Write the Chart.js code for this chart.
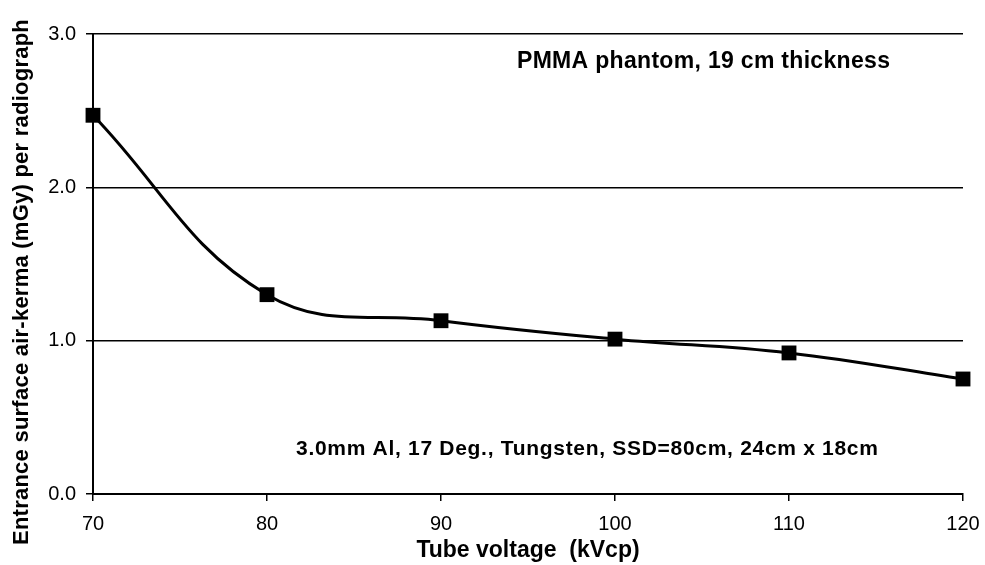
<!DOCTYPE html>
<html>
<head>
<meta charset="utf-8">
<script src="https://cdn.jsdelivr.net/npm/chart.js@4/dist/chart.umd.min.js"></script>
<style>
  html, body { margin: 0; padding: 0; background: #fff; }
  #wrap { width: 985px; height: 565px; position: relative; }
</style>
</head>
<body>
<div id="wrap"><canvas id="chart-esak"></canvas></div>
<script>
// tensão do tubo (kVcp) e kerma no ar na superfície de entrada (mGy)
const kvcp = [70, 80, 90, 100, 110, 120];
const esak = [2.47, 1.30, 1.13, 1.01, 0.92, 0.75];
const xTicks = [70, 80, 90, 100, 110, 120];
const yTicks = [0, 1, 2, 3];

const tituloX = 'Tube voltage  (kVcp)';
const tituloY = 'Entrance surface air-kerma (mGy) per radiograph';
const notaTopo = 'PMMA phantom, 19 cm thickness';
const notaBase = '3.0mm Al, 17 Deg., Tungsten, SSD=80cm, 24cm x 18cm';

const FONTE = '"Liberation Sans", Arial, sans-serif';

// escreve texto esticado até a largura pedida (o original é meio "esticado")
function textoLargura(ctx, txt, x, y, largura) {
  ctx.letterSpacing = '0px';
  const w = ctx.measureText(txt).width;
  const esp = (largura - w) / (txt.length - 1);
  ctx.letterSpacing = esp.toFixed(2) + 'px';
  ctx.fillText(txt, x, y);
  ctx.letterSpacing = '0px';
}

// notas de texto + título do eixo Y
const notasPlugin = {
  id: 'notas',
  afterDraw(chart) {
    const ctx = chart.ctx;
    ctx.save();
    ctx.fillStyle = '#000';
    ctx.textBaseline = 'middle';
    ctx.textAlign = 'left';
    ctx.font = 'bold 23px ' + FONTE;
    textoLargura(ctx, notaTopo, 517, 62, 373);
    ctx.font = 'bold 21px ' + FONTE;
    textoLargura(ctx, notaBase, 296, 449, 582);

    // título Y (girado)
    ctx.translate(22, 282);
    ctx.rotate(-Math.PI / 2);
    ctx.font = 'bold 22px ' + FONTE;
    textoLargura(ctx, tituloY, -263, 0, 526);
    ctx.restore();
  }
};

const ctx = document.getElementById('chart-esak');
new Chart(ctx, {
  type: 'line',
  data: {
    datasets: [{
      data: kvcp.map((k, i) => ({ x: k, y: esak[i] })),
      borderColor: '#000', borderWidth: 3,
      backgroundColor: '#000',
      pointStyle: 'rect', pointRadius: 10.5, pointBorderWidth: 0,
      tension: 0.4, fill: false, clip: false
    }]
  },
  options: {
    responsive: true, maintainAspectRatio: false, animation: false,
    layout: { padding: { top: 34, right: 22, left: 0, bottom: 0 } },
    plugins: { legend: { display: false }, tooltip: { enabled: false } },
    scales: {
      x: {
        type: 'linear', min: 70, max: 120,
        afterBuildTicks: s => { s.ticks = xTicks.map(v => ({ value: v })); },
        afterFit: s => { s.height = 71; s.paddingLeft = 0; s.paddingRight = 0; },
        grid: { drawOnChartArea: false, drawTicks: true, tickLength: 7, color: '#000', lineWidth: 1.5 },
        border: { color: '#000', width: 2 },
        ticks: { color: '#000', padding: 11, maxRotation: 0, font: { family: FONTE, size: 20 } },
        title: { display: true, text: tituloX, color: '#000', padding: { top: 0, bottom: 1 },
          font: { family: FONTE, size: 23, weight: 'bold' } }
      },
      y: {
        min: 0, max: 3,
        afterBuildTicks: s => { s.ticks = yTicks.map(v => ({ value: v })); },
        afterFit: s => { s.width = 93; s.paddingTop = 0; s.paddingBottom = 0; },
        grid: { color: '#000', lineWidth: 1.5, tickLength: 7, drawTicks: true },
        border: { color: '#000', width: 2 },
        ticks: { color: '#000', padding: 10, callback: v => v.toFixed(1), font: { family: FONTE, size: 20 } },
        title: { display: false }
      }
    }
  },
  plugins: [notasPlugin]
});
</script>
</body>
</html>
